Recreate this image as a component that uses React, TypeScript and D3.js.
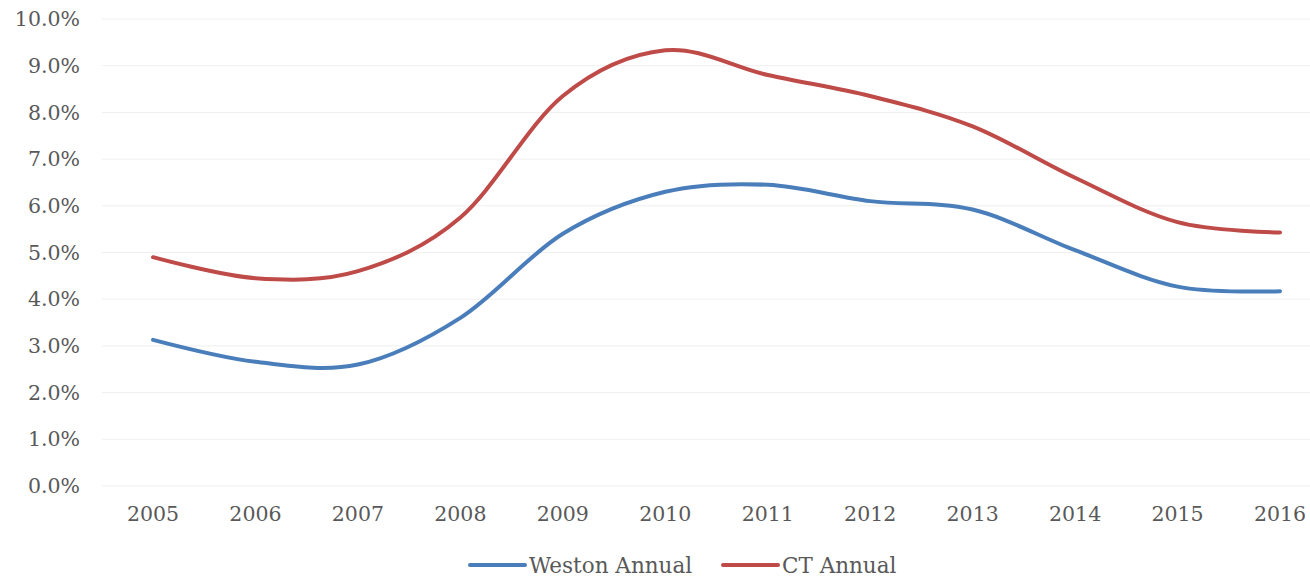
import React from "react";
import * as d3 from "d3";

const years = ["2005", "2006", "2007", "2008", "2009", "2010", "2011", "2012", "2013", "2014", "2015", "2016"];
const westonAnnual = [3.13, 2.66, 2.6, 3.6, 5.4, 6.3, 6.45, 6.1, 5.92, 5.05, 4.27, 4.17];
const ctAnnual = [4.9, 4.45, 4.6, 5.75, 8.35, 9.33, 8.8, 8.35, 7.7, 6.6, 5.65, 5.43];
const yTicks = [0, 1, 2, 3, 4, 5, 6, 7, 8, 9, 10];

const series = [
  { name: "Weston Annual", values: westonAnnual, color: "#4a7ebb" },
  { name: "CT Annual", values: ctAnnual, color: "#be4b48" },
];

const width = 1310;
const height = 579;
const font = "'DejaVu Serif', Georgia, serif";

export default function App() {
  const x = d3.scalePoint<string>().domain(years).range([153, 1280]);
  const y = d3.scaleLinear().domain([0, 10]).range([486, 19]);

  const line = d3
    .line<number>()
    .x((_, i) => x(years[i]) as number)
    .y(d => y(d))
    .curve(d3.curveCatmullRom.alpha(0));

  return (
    <svg
      width={width}
      height={height}
      style={{ position: "absolute", left: 0, top: 0, background: "#fff" }}
      fontFamily={font}
    >
      {/* grid + y labels */}
      {yTicks.map(t => (
        <g key={t}>
          <line x1={102} x2={1310} y1={y(t)} y2={y(t)} stroke="#efefef" strokeWidth={1} />
          <text x={80} y={y(t)} dy="0.35em" textAnchor="end" fontSize={20.5} fill="#595959">
            {t.toFixed(1)}%
          </text>
        </g>
      ))}

      {/* x labels */}
      {years.map(yr => (
        <text key={yr} x={x(yr)} y={514} dy="0.35em" textAnchor="middle" fontSize={20.5} fill="#595959">
          {yr}
        </text>
      ))}

      {/* lines */}
      {series.map(s => (
        <path
          key={s.name}
          d={line(s.values) || ""}
          fill="none"
          stroke={s.color}
          strokeWidth={4}
          strokeLinecap="round"
        />
      ))}

      {/* legend */}
      {series.map((s, i) => {
        const lx = i === 0 ? 470 : 723;
        return (
          <g key={s.name}>
            <line x1={lx} x2={lx + 55} y1={565} y2={565} stroke={s.color} strokeWidth={4} strokeLinecap="round" />
            <text x={lx + 59} y={565} dy="0.35em" fontSize={21.5} fill="#595959">
              {s.name}
            </text>
          </g>
        );
      })}
    </svg>
  );
}
